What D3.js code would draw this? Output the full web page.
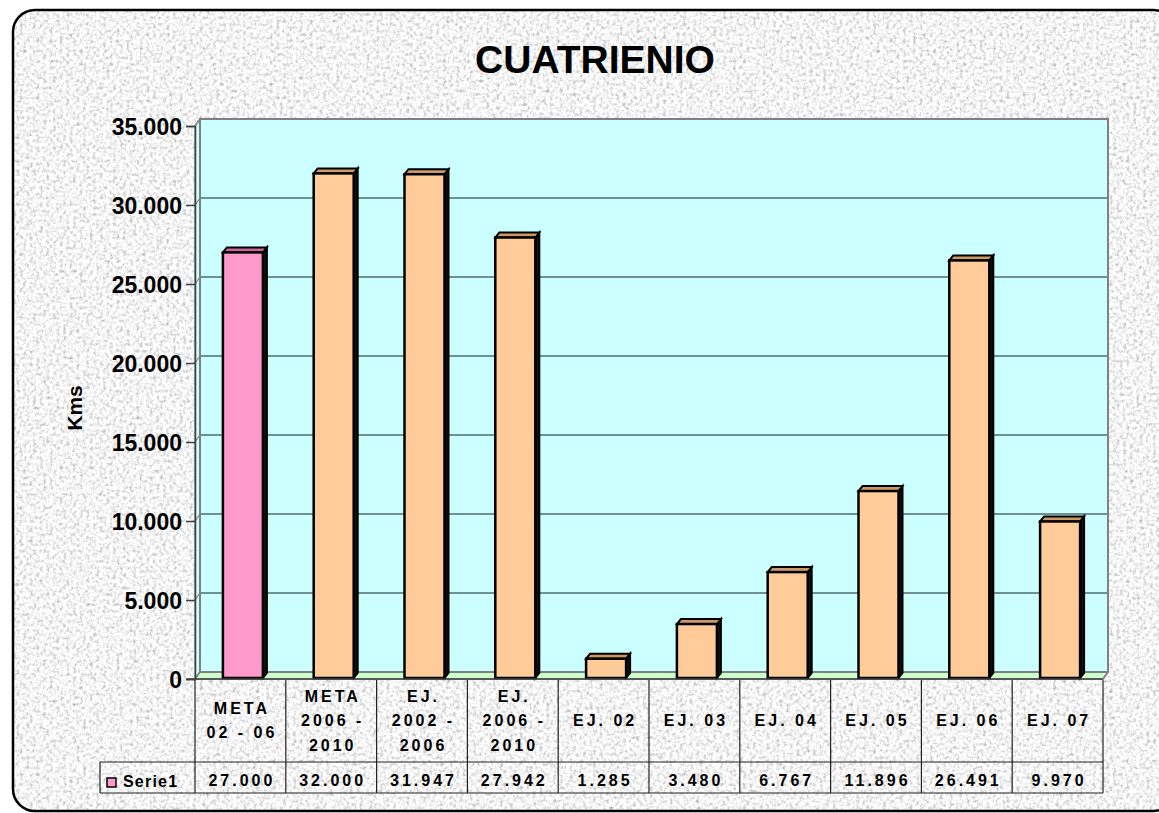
<!DOCTYPE html>
<meta charset="utf-8">
<style>
  body { margin: 0; background: #fff; }
  text { font-family: Arial, "Liberation Sans", sans-serif; font-weight: bold; fill: #000; }
</style>
<body>
<div id="chart"></div>
<script src="https://d3js.org/d3.v7.min.js"></script>
<script>
  // chart data
  var categories = ["META|02 - 06", "META|2006 -|2010", "EJ.|2002 -|2006", "EJ.|2006 -|2010",
                    "EJ. 02", "EJ. 03", "EJ. 04", "EJ. 05", "EJ. 06", "EJ. 07"];
  var values = [27000, 32000, 31947, 27942, 1285, 3480, 6767, 11896, 26491, 9970];
  var seriesName = "Serie1";
  var yTicks = [0, 5000, 10000, 15000, 20000, 25000, 30000, 35000];
  var title = "CUATRIENIO";
  var yTitle = "Kms";

  var width = 1159, height = 813;
  var plot = { left: 195, right: 1103, top: 126, bottom: 679 };
  var depth = { dx: 5, dy: -7 };      // wall depth
  var barDepth = { dx: 4, dy: -5 };   // bar depth

  var fmt = d3.formatLocale({ decimal: ",", thousands: ".", grouping: [3], currency: ["", ""] }).format(",.0f");

  var svg = d3.select("#chart").append("svg")
    .attr("width", width)
    .attr("height", height);

  // granite texture
  var defs = svg.append("defs");
  var f = defs.append("filter").attr("id", "granite")
    .attr("x", 0).attr("y", 0).attr("width", "100%").attr("height", "100%");
  f.append("feTurbulence").attr("type", "fractalNoise").attr("baseFrequency", 0.3)
    .attr("numOctaves", 3).attr("seed", 7).attr("result", "noise");
  f.append("feColorMatrix").attr("type", "saturate").attr("values", 0).attr("result", "gray");
  var ct = f.append("feComponentTransfer");
  ["R", "G", "B"].forEach(function (c) {
    ct.append("feFunc" + c).attr("type", "linear").attr("slope", 1.5).attr("intercept", 0.16);
  });
  ct.append("feFuncA").attr("type", "table").attr("tableValues", "1 1");
  defs.append("clipPath").attr("id", "frameClip")
    .append("rect").attr("x", 13).attr("y", 10).attr("width", 1162).attr("height", 801).attr("rx", 22);

  svg.append("rect")
    .attr("x", 13).attr("y", 10).attr("width", 1162).attr("height", 801)
    .attr("clip-path", "url(#frameClip)")
    .attr("filter", "url(#granite)");
  svg.append("rect")
    .attr("x", 13).attr("y", 10).attr("width", 1162).attr("height", 801).attr("rx", 22)
    .attr("fill", "none").attr("stroke", "#000").attr("stroke-width", 2.5);

  // scales
  var x = d3.scaleBand().domain(d3.range(categories.length))
    .range([plot.left, plot.right]);
  var y = d3.scaleLinear().domain([0, 35000]).range([plot.bottom, plot.top]);

  var g = svg.append("g");

  // back wall
  g.append("rect")
    .attr("x", plot.left + depth.dx).attr("y", y(35000) + depth.dy)
    .attr("width", plot.right - plot.left)
    .attr("height", y(0) - y(35000))
    .attr("fill", "#ccffff");
  // side wall
  g.append("path")
    .attr("d", d3.line()([[plot.left, y(35000)], [plot.left + depth.dx, y(35000) + depth.dy],
      [plot.left + depth.dx, y(0) + depth.dy], [plot.left, y(0)]]) + "Z")
    .attr("fill", "#ccffff").attr("stroke", "#808080").attr("stroke-width", 1.5);
  // floor
  g.append("path")
    .attr("d", d3.line()([[plot.left, y(0)], [plot.left + depth.dx, y(0) + depth.dy],
      [plot.right + depth.dx, y(0) + depth.dy], [plot.right, y(0)]]) + "Z")
    .attr("fill", "#ccffcc").attr("stroke", "#808080").attr("stroke-width", 1.5);

  // gridlines on back wall and side wall
  g.selectAll(".grid").data(yTicks.filter(function (d) { return d > 0 && d < 35000; }))
    .join("line")
    .attr("x1", plot.left + depth.dx).attr("x2", plot.right + depth.dx)
    .attr("y1", function (d) { return y(d) + depth.dy; })
    .attr("y2", function (d) { return y(d) + depth.dy; })
    .attr("stroke", "#4f6e6e").attr("stroke-width", 1.5);
  g.selectAll(".sidegrid").data(yTicks)
    .join("line")
    .attr("x1", plot.left).attr("x2", plot.left + depth.dx)
    .attr("y1", function (d) { return y(d); })
    .attr("y2", function (d) { return y(d) + depth.dy; })
    .attr("stroke", "#808080").attr("stroke-width", 1.2);

  // back wall frame
  g.append("rect")
    .attr("x", plot.left + depth.dx).attr("y", y(35000) + depth.dy)
    .attr("width", plot.right - plot.left)
    .attr("height", y(0) - y(35000))
    .attr("fill", "none").attr("stroke", "#808080").attr("stroke-width", 2);

  // y axis
  var yAxis = g.append("g")
    .attr("transform", "translate(" + plot.left + ",0)")
    .call(d3.axisLeft(y).tickValues(yTicks).tickFormat(fmt).tickSize(9).tickPadding(4));
  yAxis.select(".domain").attr("stroke", "#404040").attr("stroke-width", 1.5);
  yAxis.selectAll(".tick line").attr("stroke", "#404040").attr("stroke-width", 1.5);
  yAxis.selectAll(".tick text")
    .attr("font-size", 23).attr("font-family", "Arial, 'Liberation Sans', sans-serif")
    .attr("font-weight", "bold").attr("fill", "#000").attr("dy", "0.36em");

  // bars
  var bars = g.selectAll(".bar").data(values).join("g");
  var bw = 40;
  function bx(i) { return x(i) + x.bandwidth() / 2 - bw / 2 + 2.5; }
  function fillOf(i) { return i === 0 ? "#ff99cc" : "#ffcc99"; }
  function topOf(i) { return i === 0 ? "#cc6699" : "#cc9966"; }

  bars.append("path")   // side face
    .attr("d", function (d, i) {
      var x1 = bx(i) + bw, y0 = y(0) - 1, y1 = y(d);
      return d3.line()([[x1, y1], [x1 + barDepth.dx, y1 + barDepth.dy],
        [x1 + barDepth.dx, y0 + barDepth.dy], [x1, y0]]) + "Z";
    })
    .attr("fill", "#111").attr("stroke", "#000").attr("stroke-width", 2);
  bars.append("path")   // top face
    .attr("d", function (d, i) {
      var x0 = bx(i), y1 = y(d);
      return d3.line()([[x0, y1], [x0 + barDepth.dx, y1 + barDepth.dy],
        [x0 + bw + barDepth.dx, y1 + barDepth.dy], [x0 + bw, y1]]) + "Z";
    })
    .attr("fill", function (d, i) { return topOf(i); })
    .attr("stroke", "#000").attr("stroke-width", 2);
  bars.append("rect")   // front face
    .attr("x", function (d, i) { return bx(i); })
    .attr("y", function (d) { return y(d); })
    .attr("width", bw)
    .attr("height", function (d) { return y(0) - 1 - y(d); })
    .attr("fill", function (d, i) { return fillOf(i); })
    .attr("stroke", "#000").attr("stroke-width", 2.5);

  // data table
  var rowTop = 680, rowMid = 762, rowBot = 793, tableLeft = 100;
  var tg = svg.append("g").attr("stroke", "#222").attr("stroke-width", 1.2);
  tg.append("line").attr("x1", plot.left - 9).attr("x2", plot.right).attr("y1", y(0)).attr("y2", y(0))
    .attr("stroke", "#404040").attr("stroke-width", 1.5);
  tg.append("line").attr("x1", plot.right).attr("x2", plot.right + depth.dx)
    .attr("y1", y(0)).attr("y2", y(0) + depth.dy).attr("stroke", "#808080").attr("stroke-width", 1.5);
  tg.append("line").attr("x1", tableLeft).attr("x2", plot.right).attr("y1", rowMid).attr("y2", rowMid);
  tg.append("line").attr("x1", tableLeft).attr("x2", plot.right).attr("y1", rowBot).attr("y2", rowBot);
  tg.append("line").attr("x1", tableLeft).attr("x2", tableLeft).attr("y1", rowMid).attr("y2", rowBot);
  tg.selectAll(".col").data(d3.range(categories.length + 1)).join("line")
    .attr("x1", function (i) { return plot.left + i * x.bandwidth(); })
    .attr("x2", function (i) { return plot.left + i * x.bandwidth(); })
    .attr("y1", rowTop).attr("y2", rowBot);

  // category labels
  var labels = svg.selectAll(".cat").data(categories).join("text")
    .attr("text-anchor", "middle")
    .attr("font-size", 16)
    .attr("letter-spacing", 3);
  labels.each(function (c, i) {
    var lines = c.split("|");
    var t = d3.select(this);
    lines.forEach(function (l, j) {
      t.append("tspan")
        .attr("x", x(i) + x.bandwidth() / 2 + 1.5)
        .attr("y", 726 + (j - (lines.length - 1) / 2) * 24.5)
        .text(l);
    });
  });

  // values row
  svg.selectAll(".val").data(values).join("text")
    .attr("x", function (d, i) { return x(i) + x.bandwidth() / 2 + 1.5; })
    .attr("y", 786)
    .attr("text-anchor", "middle")
    .attr("font-size", 16)
    .attr("letter-spacing", 3)
    .text(function (d) { return fmt(d); });

  // legend key
  svg.append("rect").attr("x", 107).attr("y", 778).attr("width", 9).attr("height", 9)
    .attr("fill", "#ff99cc").attr("stroke", "#000").attr("stroke-width", 1.5);
  svg.append("text").attr("x", 123).attr("y", 787).attr("font-size", 16)
    .attr("letter-spacing", 1.2).text(seriesName);

  // titles
  svg.append("text").attr("x", 595).attr("y", 73).attr("text-anchor", "middle")
    .attr("font-size", 39).text(title);
  svg.append("text")
    .attr("transform", "translate(82,408) rotate(-90)")
    .attr("text-anchor", "middle").attr("font-size", 21).text(yTitle);
</script>
</body>
